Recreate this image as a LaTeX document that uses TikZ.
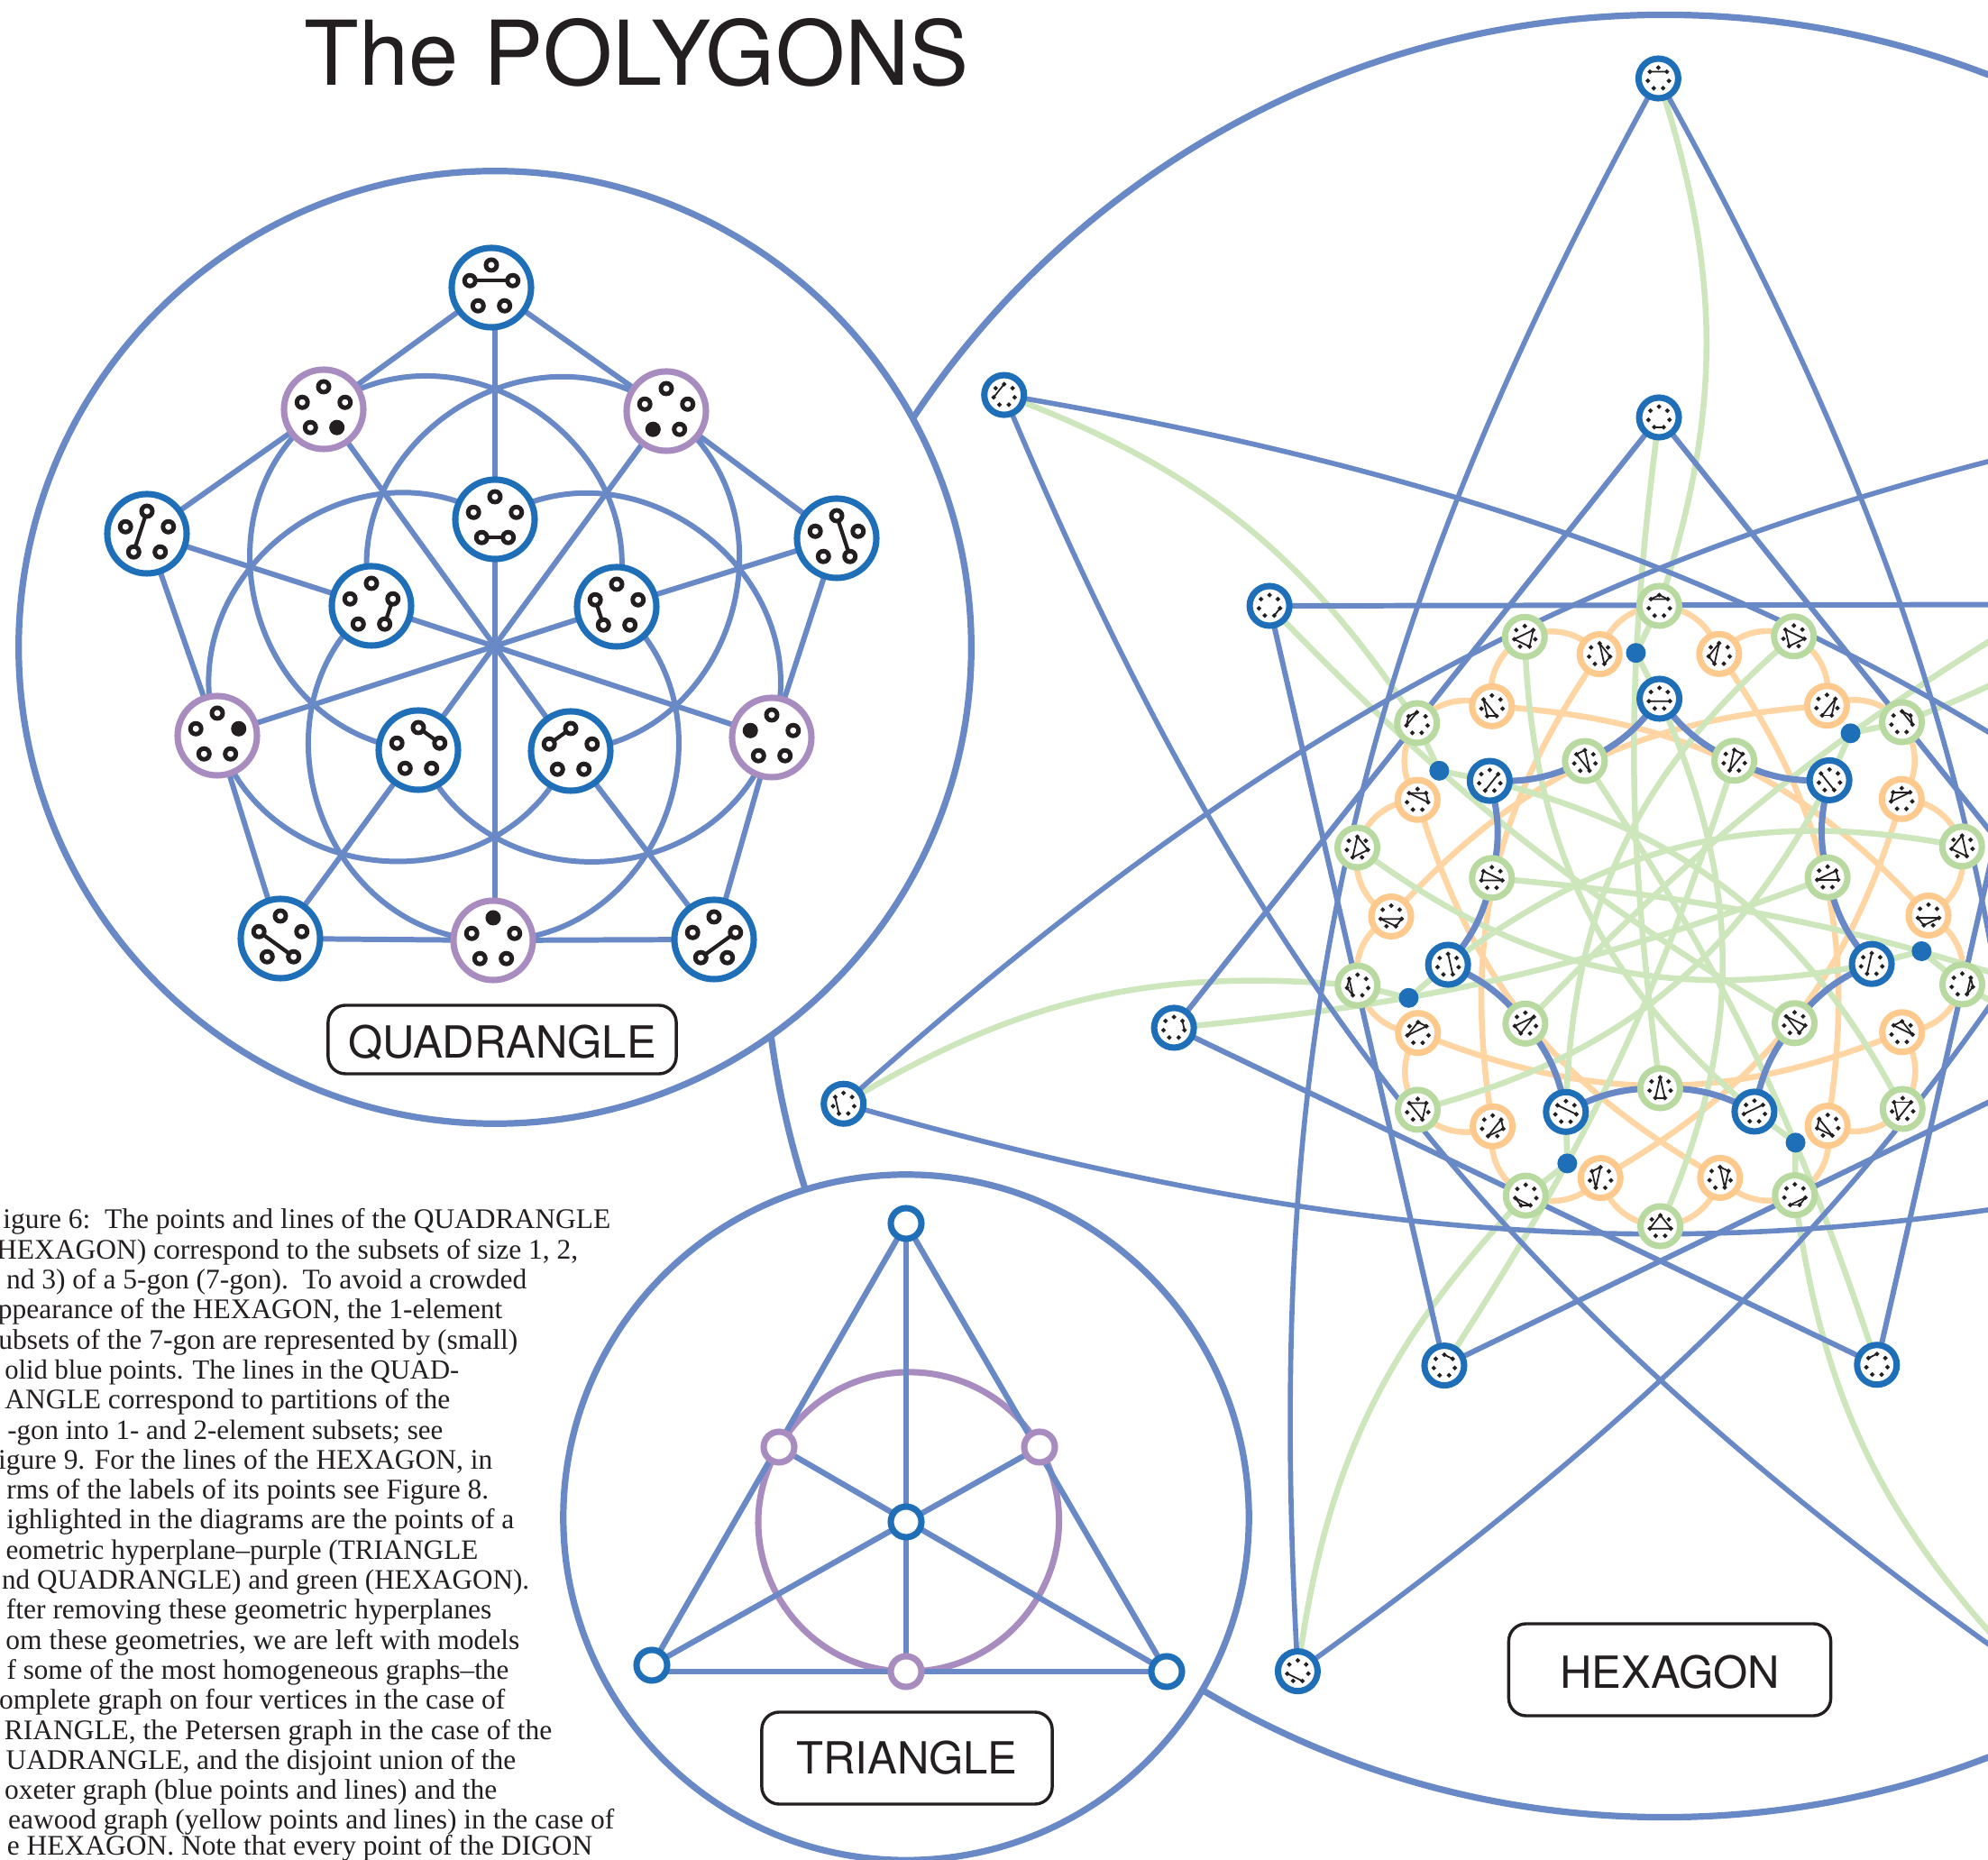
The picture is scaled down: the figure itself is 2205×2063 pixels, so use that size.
\documentclass[tikz,border=0pt]{standalone}
\usepackage{fontspec}
\setmainfont{Liberation Serif}
\newfontfamily\boxfont{TeX Gyre Heros}
\definecolor{lineblue}{HTML}{6888C6}
\definecolor{nodeblue}{HTML}{1F6FB8}
\definecolor{hyperpurple}{HTML}{A98CBF}
\definecolor{linegreen}{HTML}{CDE6BC}
\definecolor{nodegreen}{HTML}{B8DAA0}
\definecolor{lineorange}{HTML}{FFD6A3}
\definecolor{nodeorange}{HTML}{FDC98C}
\definecolor{inkblack}{HTML}{231F20}
\pgfdeclarelayer{backlayer}
\pgfdeclarelayer{edgelayer}
\pgfsetlayers{backlayer,edgelayer,main}
\tikzset{
  bigring/.style={circle,draw=lineblue,line width=2.05pt,inner sep=0pt},
  quadnode/.style={circle,fill=white,line width=2pt,minimum size=0.88cm,inner sep=0pt},
  hexnode/.style={circle,fill=white,line width=2pt,minimum size=0.44cm,inner sep=0pt},
  trinode/.style={circle,fill=white,line width=2pt,minimum size=0.34cm,inner sep=0pt},
  blueedge/.style={draw=lineblue,line width=1.8pt},
  quadedge/.style={draw=lineblue,line width=1.7pt},
  greenedge/.style={draw=linegreen,line width=1.85pt},
  orangeedge/.style={draw=lineorange,line width=1.85pt},
  quadarc/.style={quadedge,bend right=70,looseness=1.21},
  triarc/.style={draw=hyperpurple,line width=2pt,bend right=60,looseness=1.135},
  labelbox/.style={draw=inkblack,line width=0.97pt,rounded corners=5.5pt,text height=11.6pt,text depth=0pt,font=\boxfont\fontsize{13.95}{16}\selectfont,text=inkblack},
  textline/.style={anchor=base east,text=inkblack,font=\fontsize{8.95}{10}\selectfont},
  hexchord/.style={draw=inkblack,line width=0.5pt},
  hexdot/.style={draw=inkblack,fill=white,line width=0.5pt},
  quadchord/.style={draw=inkblack,line width=1.2pt},
  quaddot/.style={draw=inkblack,fill=white,line width=1.4pt}
}
\newcommand{\hexglyph}[3]{%
  \foreach \p/\q in {#3}
    \draw [hexchord] ([shift={({90+(#2-\p)*360/7}:12)}]#1.center) -- ([shift={({90+(#2-\q)*360/7}:12)}]#1.center);
  \foreach \p in {0,...,6}
    \filldraw [hexdot] ([shift={({90+(#2-\p)*360/7}:12)}]#1.center) circle (1.5);
}
\newcommand{\quadglyph}[2]{%
  \foreach \p/\q in {#2}
    \draw [quadchord] ([shift={({90-\p*72}:25)}]#1.center) -- ([shift={({90-\q*72}:25)}]#1.center);
  \foreach \p in {0,...,4}
    \filldraw [quaddot] ([shift={({90-\p*72}:25)}]#1.center) circle (6);
}
\newcommand{\quadsolid}[2]{%
  \quadglyph{#1}{}
  \fill [inkblack] ([shift={({90-#2*72}:25)}]#1.center) circle (8);
}
\begin{document}
\begin{tikzpicture}[x=0.01cm,y=0.01cm]
\useasboundingbox (0,0) rectangle (2205,2063);
\begin{pgfonlayer}{backlayer}
\node [bigring,minimum size=19.98cm] (hexring) at (1846,1047) {};
\node [bigring,fill=white,minimum size=10.56cm] (quadring) at (549,1345) {};
\node [bigring,fill=white,minimum size=7.6cm] (triring) at (1005,380) {};
\end{pgfonlayer}
% title and frames
\node [anchor=base west,text=inkblack,font=\boxfont\fontsize{28.2}{30}\selectfont,inner sep=0pt] (title) at (337,1968) {The POLYGONS};
\node [labelbox,minimum width=3.86cm,minimum height=0.76cm,inner sep=0pt] (quadlabel) at (557,910) {QUADRANGLE};
\node [labelbox,text height=10pt,minimum width=3.22cm,minimum height=1.02cm,inner sep=0pt] (trilabel) at (1006,113) {TRIANGLE};
\node [labelbox,minimum width=3.57cm,minimum height=1.02cm,inner sep=0pt] (hexlabel) at (1852,211) {HEXAGON};
% caption
\tikzstyle{every node}+=[inner sep=0pt]
\node [textline] (ln1) at (678,700) {igure 6:\ \ The points and lines of the QUADRANGLE};
\node [textline] (ln2) at (642,666.7) {HEXAGON) correspond to the subsets of size 1, 2,};
\node [textline] (ln3) at (585,633.4) {nd 3) of a 5-gon (7-gon).\ \ To avoid a crowded};
\node [textline] (ln4) at (558,600.1) {ppearance of the HEXAGON, the 1-element};
\node [textline] (ln5) at (575,566.8) {ubsets of the 7-gon are represented by (small)};
\node [textline,font=\fontsize{8.7}{10}\selectfont] (ln6) at (510,533.5) {olid blue points. The lines in the QUAD-};
\node [textline] (ln7) at (500,500.2) {ANGLE correspond to partitions of the};
\node [textline,font=\fontsize{8.8}{10}\selectfont] (ln8) at (492,466.9) {-gon into 1- and 2-element subsets; see};
\node [textline] (ln9) at (547,433.6) {igure 9. For the lines of the HEXAGON, in};
\node [textline] (ln10) at (543,400.3) {rms of the labels of its points see Figure 8.};
\node [textline] (ln11) at (571,367) {ighlighted in the diagrams are the points of a};
\node [textline,font=\fontsize{8.85}{10}\selectfont] (ln12) at (531,333.7) {eometric hyperplane--purple (TRIANGLE};
\node [textline,font=\fontsize{8.85}{10}\selectfont] (ln13) at (588,300.4) {nd QUADRANGLE) and green (HEXAGON).};
\node [textline] (ln14) at (546,267.1) {fter removing these geometric hyperplanes};
\node [textline] (ln15) at (577,233.8) {om these geometries, we are left with models};
\node [textline,font=\fontsize{8.85}{10}\selectfont] (ln16) at (565,200.5) {f some of the most homogeneous graphs--the};
\node [textline] (ln17) at (561,167.2) {omplete graph on four vertices in the case of};
\node [textline] (ln18) at (613,133.9) {RIANGLE, the Petersen graph in the case of the};
\node [textline] (ln19) at (573,100.6) {UADRANGLE, and the disjoint union of the};
\node [textline] (ln20) at (552,67.3) {oxeter graph (blue points and lines) and the};
\node [textline] (ln21) at (682,34) {eawood graph (yellow points and lines) in the case of};
\node [textline] (ln22) at (658,5) {e HEXAGON. Note that every point of the DIGON};
% quadrangle
\node [quadnode,draw=nodeblue] (qa) at (545,1744) {};
\node [quadnode,draw=hyperpurple] (qb) at (359,1609) {};
\node [quadnode,draw=hyperpurple] (qc) at (739,1607) {};
\node [quadnode,draw=nodeblue] (qd) at (163,1471) {};
\node [quadnode,draw=nodeblue] (qe) at (928,1466) {};
\node [quadnode,draw=nodeblue] (qf) at (549,1487) {};
\node [quadnode,draw=nodeblue] (qg) at (412,1391) {};
\node [quadnode,draw=nodeblue] (qh) at (684,1390) {};
\node [quadnode,draw=hyperpurple] (qi) at (241,1247) {};
\node [quadnode,draw=hyperpurple] (qj) at (856,1245) {};
\node [quadnode,draw=nodeblue] (qk) at (464,1231) {};
\node [quadnode,draw=nodeblue] (ql) at (633,1230) {};
\node [quadnode,draw=nodeblue] (qm) at (311,1022) {};
\node [quadnode,draw=nodeblue] (qn) at (792,1021) {};
\node [quadnode,draw=hyperpurple] (qo) at (547,1020) {};
\quadglyph{qa}{1/4}
\quadsolid{qb}{2}
\quadsolid{qc}{3}
\quadglyph{qd}{0/3}
\quadglyph{qe}{0/2}
\quadglyph{qf}{2/3}
\quadglyph{qg}{1/2}
\quadglyph{qh}{3/4}
\quadsolid{qi}{1}
\quadsolid{qj}{4}
\quadglyph{qk}{0/1}
\quadglyph{ql}{0/4}
\quadglyph{qm}{2/4}
\quadglyph{qn}{1/3}
\quadsolid{qo}{0}
% triangle
\node [trinode,draw=nodeblue] (ta) at (1005,706) {};
\node [trinode,draw=hyperpurple] (tb) at (864,458) {};
\node [trinode,draw=hyperpurple] (tc) at (1153,458) {};
\node [trinode,draw=nodeblue] (td) at (1005,375) {};
\node [trinode,draw=nodeblue] (te) at (723,216) {};
\node [trinode,draw=nodeblue] (tf) at (1294,209) {};
\node [trinode,draw=hyperpurple] (tg) at (1005,209) {};
% hexagon
\begin{scope}[shift={(1841,1047)},rotate=0.1]
\foreach \k in {0,...,6} {
  \node [hexnode,draw=nodeblue] (a\k) at ({90+\k*360/7}:929) {};
  \node [hexnode,draw=nodeblue] (b\k) at ({90+\k*360/7}:553) {};
  \node [hexnode,draw=nodeblue] (c\k) at ({90+\k*360/7}:241) {};
  \node [circle,fill=nodeblue,minimum size=0.22cm] (d\k) at ({95.1+\k*360/7}:293) {};
  \node [hexnode,draw=nodegreen] (e\k) at ({90+\k*360/7}:344) {};
  \node [hexnode,draw=nodegreen] (g\k) at ({270+\k*360/7}:344) {};
  \node [hexnode,draw=nodegreen] (i\k) at ({270+\k*360/7}:191) {};
  \node [hexnode,draw=nodeorange] (oa\k) at ({180+\k*360/7}:298) {};
  \node [hexnode,draw=nodeorange] (ob\k) at ({180+360/14+\k*360/7}:298) {};
}
\end{scope}
\foreach \k in {0,...,6} {
  \hexglyph{a\k}{\k}{1/6}
  \hexglyph{b\k}{\k}{3/4}
  \hexglyph{c\k}{\k}{2/5}
  \hexglyph{e\k}{\k}{6/0,0/1,1/6}
  \hexglyph{g\k}{\k}{0/2,2/5,5/0}
  \hexglyph{i\k}{\k}{0/3,3/4,4/0}
  \hexglyph{oa\k}{\k}{2/3,3/5,5/2}
  \hexglyph{ob\k}{\k}{0/1,1/5,5/0}
}
\begin{pgfonlayer}{edgelayer}
% quadrangle lines
\draw [quadedge] (qa.center) -- (qb.center) -- (qd.center) -- (qi.center) -- (qm.center) -- (qo.center) -- (qn.center) -- (qj.center) -- (qe.center) -- (qc.center) -- (qa.center);
\draw [quadedge] (qf.center |- qa.center) -- (qf.center);
\draw [quadedge] (qf.center) -- (qf.center |- qo.center);
\draw [quadedge] (qb.center) -- (ql.center);
\draw [quadedge] (qc.center) -- (qk.center);
\draw [quadedge] (qg.center) -- (qj.center);
\draw [quadedge] (qh.center) -- (qi.center);
\draw [quadedge] (qd.center) -- (qg.center);
\draw [quadedge] (qe.center) -- (qh.center);
\draw [quadedge] (qm.center) -- (qk.center);
\draw [quadedge] (qn.center) -- (ql.center);
\draw [quadarc] (qh.center) to (qb.center);
\draw [quadarc] (qb.center) to (qk.center);
\draw [quadarc] (qf.center) to (qi.center);
\draw [quadarc] (qi.center) to (ql.center);
\draw [quadarc] (qg.center) to (qo.center);
\draw [quadarc] (qo.center) to (qh.center);
\draw [quadarc] (qk.center) to (qj.center);
\draw [quadarc] (qj.center) to (qf.center);
\draw [quadarc] (ql.center) to (qc.center);
\draw [quadarc] (qc.center) to (qg.center);
% triangle lines
\draw [triarc] (tb.center) to (tg.center);
\draw [triarc] (tg.center) to (tc.center);
\draw [triarc] (tc.center) to (tb.center);
\draw [blueedge] (ta.center) -- (te.center);
\draw [blueedge] (ta.center) -- (tf.center);
\draw [blueedge] (te.center |- tg.center) -- (tf.center);
\draw [blueedge] (ta.center) -- (tg.center);
\draw [blueedge] (te.center) -- (tc.center);
\draw [blueedge] (tf.center) -- (tb.center);
% hexagon lines
\foreach \k in {0,...,6} {
  \pgfmathtruncatemacro{\kt}{mod(\k+3,7)}
  \pgfmathtruncatemacro{\kn}{mod(\k+1,7)}
  \pgfmathtruncatemacro{\kf}{mod(\k+4,7)}
  \pgfmathtruncatemacro{\kv}{mod(\k+5,7)}
  \pgfmathtruncatemacro{\ks}{mod(\k+6,7)}
  \draw [orangeedge] (e\k.center) to [bend right=35] (ob\kv.center);
  \draw [orangeedge] (ob\kv.center) to [bend right=35] (g\kf.center);
  \draw [orangeedge] (g\kf.center) to [bend right=35] (oa\ks.center);
  \draw [orangeedge] (oa\ks.center) to [bend right=35] (e\kn.center);
  \draw [orangeedge] (ob\k.center) to [bend right=22] (oa\kt.center);
}
\foreach \k in {0,...,6} {
  \draw [greenedge] (a\k.center) to [bend left=18] (e\k.center);
  \draw [greenedge] (b\k.center) to [bend right=7.5] (i\k.center);
  \draw [greenedge] (c\k.center) to [bend left=24] (g\k.center);
  \draw [greenedge] (e\k.center) -- (d\k.center);
  \draw [greenedge] (d\k.center) -- (c\k.center);
}
\foreach \k in {0,...,6} {
  \pgfmathtruncatemacro{\kt}{mod(\k+3,7)}
  \pgfmathtruncatemacro{\kw}{mod(\k+2,7)}
  \pgfmathtruncatemacro{\kn}{mod(\k+1,7)}
  \pgfmathtruncatemacro{\kf}{mod(\k+4,7)}
  \draw [blueedge,line width=1.6pt] (a\k.center) to [bend right=16] (a\kt.center);
  \draw [blueedge,line width=1.7pt] (b\k.center) -- (b\kw.center);
  \draw [blueedge,line width=2pt] (c\k.center) to [bend left=14] (i\kf.center);
  \draw [blueedge,line width=2pt] (i\kf.center) to [bend left=14] (c\kn.center);
}
\end{pgfonlayer}
\end{tikzpicture}
\end{document}
